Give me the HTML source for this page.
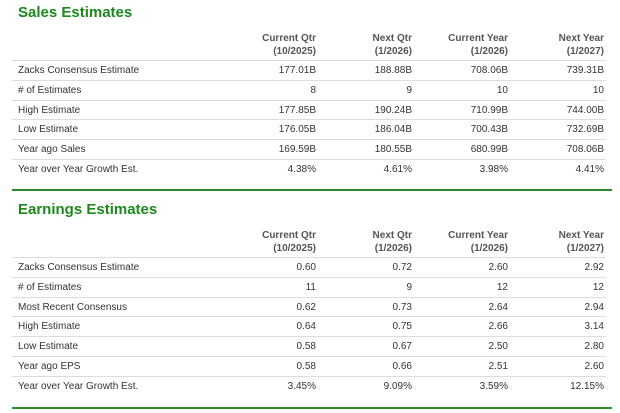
<!DOCTYPE html>
<html><head><meta charset="utf-8"><style>
body{margin:0;width:620px;height:413px;background:#fff;font-family:"Liberation Sans",Arial,sans-serif;color:#333;position:relative;overflow:hidden}
.t{position:absolute;left:18px;font-size:15px;font-weight:bold;color:#1d8a1d}
.h{position:absolute;font-size:10px;font-weight:bold;color:#555;text-align:right;line-height:13px;width:120px}
.r{position:absolute;left:12px;width:594px;height:20px;border-top:1px solid #ddd;font-size:10px;line-height:20px}
.r span{position:absolute;text-align:right;width:120px}
.r .l{left:6px;text-align:left;width:200px}
.g{position:absolute;left:12px;width:600px;height:2px;background:#2a8a2a}
</style></head><body>
<div class="t" style="top:4px">Sales Estimates</div>
<div class="g" style="top:189px"></div>
<div class="t" style="top:201px">Earnings Estimates</div>
<div class="g" style="top:407px"></div>
<script>
const heads=[["Current Qtr","(10/2025)"],["Next Qtr","(1/2026)"],["Current Year","(1/2026)"],["Next Year","(1/2027)"]];
const rights=[316,412,508,604];
const salesRows=[["Zacks Consensus Estimate","177.01B","188.88B","708.06B","739.31B"],["# of Estimates","8","9","10","10"],["High Estimate","177.85B","190.24B","710.99B","744.00B"],["Low Estimate","176.05B","186.04B","700.43B","732.69B"],["Year ago Sales","169.59B","180.55B","680.99B","708.06B"],["Year over Year Growth Est.","4.38%","4.61%","3.98%","4.41%"]];
const earnRows=[["Zacks Consensus Estimate","0.60","0.72","2.60","2.92"],["# of Estimates","11","9","12","12"],["Most Recent Consensus","0.62","0.73","2.64","2.94"],["High Estimate","0.64","0.75","2.66","3.14"],["Low Estimate","0.58","0.67","2.50","2.80"],["Year ago EPS","0.58","0.66","2.51","2.60"],["Year over Year Growth Est.","3.45%","9.09%","3.59%","12.15%"]];
function table(headTop,rowTop,rows){
  heads.forEach((h,i)=>{
    const d=document.createElement('div');d.className='h';
    
    
    d.style.top=headTop+'px';d.style.left=(rights[i]-120)+'px';
    d.innerHTML=h[0]+'<br>'+h[1];document.body.appendChild(d);
  });
  rows.forEach((r,j)=>{
    const d=document.createElement('div');d.className='r';
    
    
    d.style.top=(rowTop+j*19.8)+'px';
    r.forEach((c,k)=>{
      const s=document.createElement('span');
      
      
      if(k==0)s.className='l';else s.style.left=(rights[k-1]-12-120)+'px';
      s.textContent=c;d.appendChild(s);
    });
    document.body.appendChild(d);
  });
}
table(32,60,salesRows);
table(229,257,earnRows);
</script>
</body></html>
